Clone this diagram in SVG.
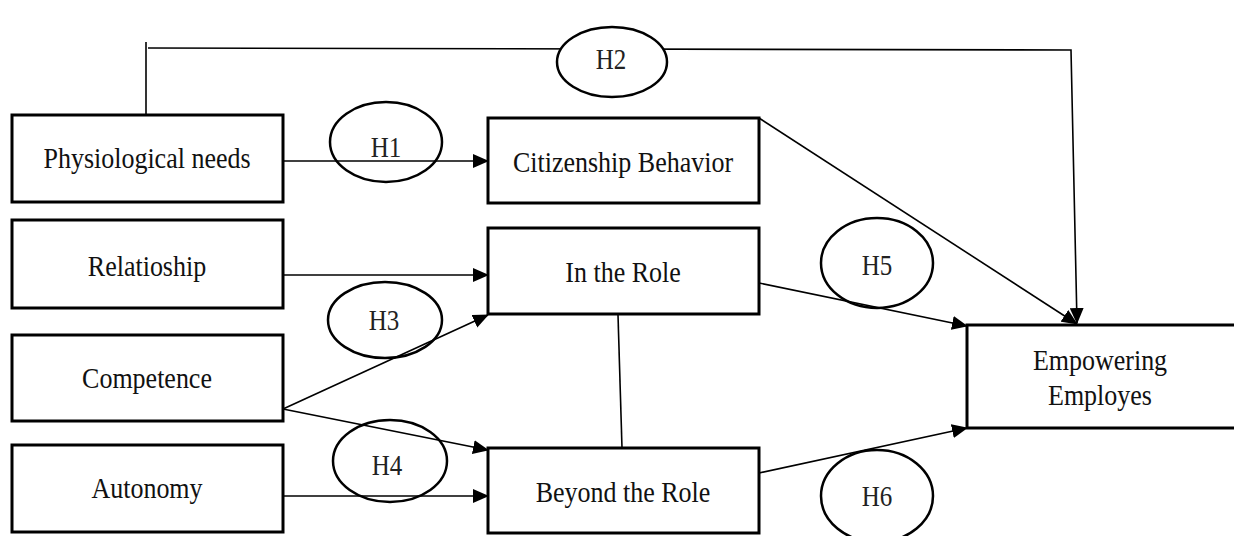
<svg xmlns="http://www.w3.org/2000/svg" width="1234" height="536" viewBox="0 0 1234 536">
<style>
.box{fill:#fff;stroke:#000;stroke-width:3}
.lbl{font-family:"Liberation Serif","Times New Roman",serif;font-size:26px;fill:#111;text-anchor:middle}
.hyp{font-family:"Liberation Serif","Times New Roman",serif;font-size:25px;fill:#222;text-anchor:middle}
.ell{fill:none;stroke:#000;stroke-width:2.5}
.con{fill:none;stroke:#000;stroke-width:1.6}
</style>
<defs>
<marker id="arr" markerUnits="userSpaceOnUse" markerWidth="16" markerHeight="14" refX="15" refY="7" orient="auto">
<path d="M0,0 L16,7 L0,14 Z" fill="#000"/>
</marker>
</defs>
<rect width="1234" height="536" fill="#fff"/>
<g id="connectors">
<polyline class="con" points="146,115 146,42"/>
<polyline class="con" points="148,48 1071,50 1077,323" marker-end="url(#arr)"/>
<line class="con" x1="283" y1="161" x2="488" y2="161" marker-end="url(#arr)"/>
<line class="con" x1="759" y1="118" x2="1077" y2="324" marker-end="url(#arr)"/>
<line class="con" x1="283" y1="275" x2="488" y2="275" marker-end="url(#arr)"/>
<line class="con" x1="283" y1="409" x2="488" y2="315" marker-end="url(#arr)"/>
<line class="con" x1="283" y1="409" x2="488" y2="450" marker-end="url(#arr)"/>
<line class="con" x1="283" y1="496" x2="488" y2="496" marker-end="url(#arr)"/>
<line class="con" x1="618" y1="315" x2="622" y2="448"/>
<line class="con" x1="759" y1="283" x2="967" y2="326" marker-end="url(#arr)"/>
<line class="con" x1="759" y1="473" x2="967" y2="428" marker-end="url(#arr)"/>
</g>
<g id="H1"><ellipse class="ell" cx="386" cy="142" rx="56" ry="40"/><text class="hyp" transform="translate(386,157) scale(1,1.18)">H1</text></g>
<g id="H2"><ellipse class="ell" cx="612" cy="62" rx="55" ry="35" style="fill:#fff"/><text class="hyp" transform="translate(611,69) scale(1,1.18)">H2</text></g>
<g id="H3"><ellipse class="ell" cx="385" cy="320" rx="57" ry="38"/><text class="hyp" transform="translate(384,330) scale(1,1.18)">H3</text></g>
<g id="H4"><ellipse class="ell" cx="390" cy="461" rx="57" ry="41"/><text class="hyp" transform="translate(387,475) scale(1,1.18)">H4</text></g>
<g id="H5"><ellipse class="ell" cx="877" cy="263" rx="56" ry="45"/><text class="hyp" transform="translate(877,275) scale(1,1.18)">H5</text></g>
<g id="H6"><ellipse class="ell" cx="877" cy="496" rx="56" ry="46"/><text class="hyp" transform="translate(877,506) scale(1,1.18)">H6</text></g>
<g id="physiological"><rect class="box" x="12" y="115" width="271" height="87"/><text class="lbl" transform="translate(147,168) scale(1,1.15)">Physiological needs</text></g>
<g id="relationship"><rect class="box" x="12" y="220" width="271" height="88"/><text class="lbl" transform="translate(147,276) scale(1,1.15)">Relatioship</text></g>
<g id="competence"><rect class="box" x="12" y="335" width="271" height="86"/><text class="lbl" transform="translate(147,388) scale(1,1.15)">Competence</text></g>
<g id="autonomy"><rect class="box" x="12" y="445" width="271" height="87"/><text class="lbl" transform="translate(147,498) scale(1,1.15)">Autonomy</text></g>
<g id="citizenship"><rect class="box" x="488" y="118" width="271" height="85"/><text class="lbl" transform="translate(623,172) scale(1,1.15)">Citizenship Behavior</text></g>
<g id="inrole"><rect class="box" x="488" y="228" width="271" height="86"/><text class="lbl" transform="translate(623,282) scale(1,1.15)">In the Role</text></g>
<g id="beyondrole"><rect class="box" x="488" y="448" width="271" height="85"/><text class="lbl" transform="translate(623,502) scale(1,1.15)">Beyond the Role</text></g>
<g id="empowering"><rect class="box" x="967" y="325" width="272" height="103"/><text class="lbl" transform="translate(1100,370) scale(1,1.15)">Empowering</text><text class="lbl" transform="translate(1100,405) scale(1,1.15)">Employes</text></g>
</svg>
